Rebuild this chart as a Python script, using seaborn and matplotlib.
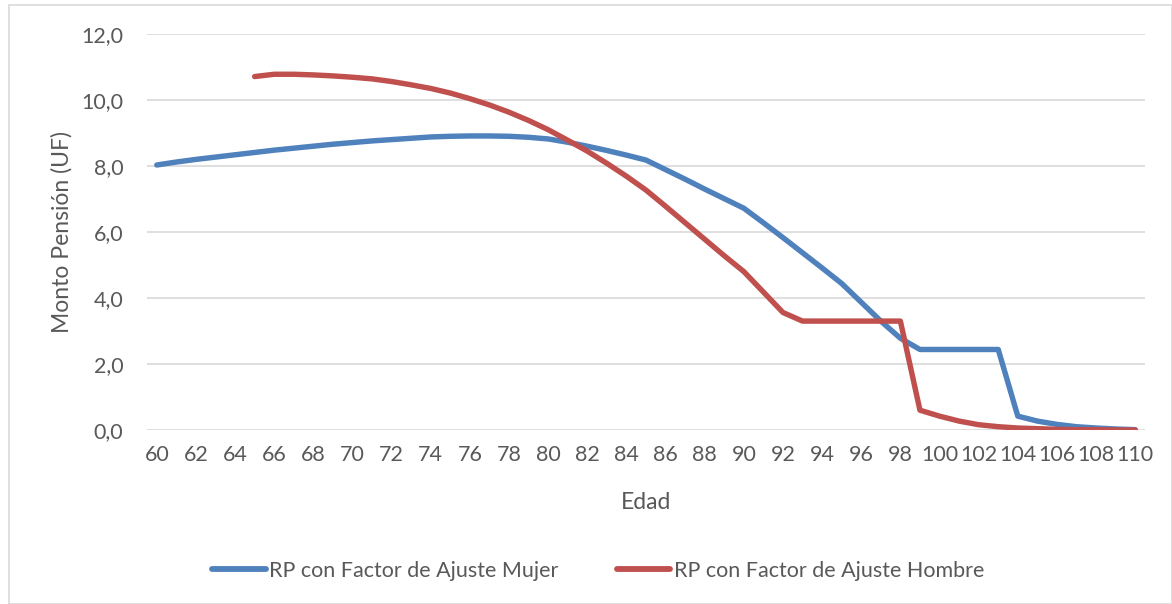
import numpy as np
import pandas as pd
import matplotlib
matplotlib.use("Agg")
import matplotlib.pyplot as plt
import seaborn as sns
from matplotlib.patches import Rectangle

edad = list(range(60, 111))

mujer = [8.03, 8.12, 8.20, 8.27, 8.34, 8.41, 8.48, 8.54, 8.60, 8.66,
         8.71, 8.76, 8.80, 8.84, 8.88, 8.90, 8.91, 8.91, 8.90, 8.87,
         8.82, 8.72, 8.60, 8.47, 8.33, 8.18, 7.89, 7.60, 7.30, 7.01,
         6.72, 6.28, 5.83, 5.37, 4.91, 4.44, 3.87, 3.30, 2.78, 2.44,
         2.44, 2.44, 2.44, 2.44, 0.42, 0.27, 0.17, 0.10, 0.06, 0.03,
         0.01]

hombre = [np.nan, np.nan, np.nan, np.nan, np.nan, 10.71, 10.78, 10.78, 10.76, 10.73,
          10.69, 10.64, 10.56, 10.46, 10.35, 10.21, 10.04, 9.85, 9.63, 9.38,
          9.10, 8.78, 8.45, 8.08, 7.69, 7.27, 6.78, 6.28, 5.78, 5.28,
          4.80, 4.18, 3.56, 3.30, 3.30, 3.30, 3.30, 3.30, 3.30, 0.60,
          0.42, 0.27, 0.16, 0.10, 0.06, 0.04, 0.02, 0.01, 0.01, 0.00,
          0.00]

serie_mujer = "RP con Factor de Ajuste Mujer"
serie_hombre = "RP con Factor de Ajuste Hombre"

df = pd.DataFrame({
    "Edad": edad * 2,
    "Monto": mujer + hombre,
    "Serie": [serie_mujer] * len(edad) + [serie_hombre] * len(edad),
})

sns.set_theme(style="white")
plt.rcParams["font.family"] = ["Lato", "DejaVu Sans"]

W, H = 1172, 604
fig = plt.figure(figsize=(W / 100, H / 100), dpi=100)
ax = fig.add_axes([147 / W, 1 - 430 / H, (1145 - 147) / W, (430 - 34) / H])

palette = {serie_mujer: "#4F81BD", serie_hombre: "#C0504D"}
sns.lineplot(data=df, x="Edad", y="Monto", hue="Serie", palette=palette,
             linewidth=3.9, ax=ax, legend=False, solid_capstyle="round",
             solid_joinstyle="round")

ax.set_xlim(59.5, 110.5)
ax.set_ylim(0, 12)
ax.set_yticks(np.arange(0, 12.1, 2))
ax.set_yticklabels([f"{v:.1f}".replace(".", ",") for v in np.arange(0, 12.1, 2)])
ax.set_xticks(list(range(60, 111, 2)))
ax.set_xticklabels([str(v) for v in range(60, 111, 2)])
ax.grid(axis="y", color="#d9d9d9", linewidth=1.2)
ax.set_axisbelow(True)
for s in ax.spines.values():
    s.set_visible(False)
ax.tick_params(axis="both", length=0, colors="#595959", labelsize=15.5)
ax.tick_params(axis="x", pad=11)
ax.tick_params(axis="y", pad=17)
ax.set_xlabel("Edad", fontsize=16.5, color="#595959", labelpad=19)
ax.set_ylabel("Monto Pensión (UF)", fontsize=16.5, color="#595959", labelpad=6)

handles = [plt.Line2D([], [], color=palette[serie_mujer], linewidth=4.2),
           plt.Line2D([], [], color=palette[serie_hombre], linewidth=4.2)]
fig.legend(handles, [serie_mujer, serie_hombre], loc="center",
           bbox_to_anchor=(598 / W, 1 - 571 / H), ncol=2, frameon=False,
           fontsize=15.5, labelcolor="#595959", handlelength=2.5,
           handletextpad=0.15, columnspacing=2.7)

fig.patches.append(Rectangle((9 / W, 0), 1 - 9 / W, 1 - 5 / H, transform=fig.transFigure,
                             fill=False, edgecolor="#d9d9d9", linewidth=1.2))

fig.savefig("out.png", dpi=100, facecolor="white")
